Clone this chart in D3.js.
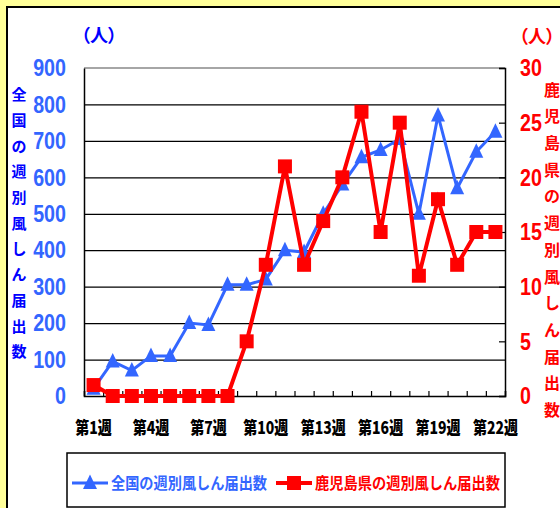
<!DOCTYPE html>
<html lang="ja">
<head>
<meta charset="UTF-8">
<title>週別風しん届出数</title>
<script src="https://cdn.jsdelivr.net/npm/d3@7"></script>
<style>
  body { margin: 0; background: #ffff99; }
  svg { display: block; }
</style>
</head>
<body>
<svg id="chart" width="560" height="508"></svg>
<script>
// data
const weeks = d3.range(1, 23).map(d => `第${d}週`);
const nationalCounts = [20, 95, 70, 110, 110, 200, 195, 305, 305, 320, 400, 395, 500, 580, 655, 675, 705, 500, 770, 570, 670, 725];
const kagoshimaCounts = [1, 0, 0, 0, 0, 0, 0, 0, 5, 12, 21, 12, 16, 20, 26, 15, 25, 11, 18, 12, 15, 15];
const leftTicks = [0, 100, 200, 300, 400, 500, 600, 700, 800, 900];
const rightTicks = [0, 5, 10, 15, 20, 25, 30];
const labelWeeks = ["第1週", "第4週", "第7週", "第10週", "第13週", "第16週", "第19週", "第22週"];
const leftTitle = "全国の週別風しん届出数";
const rightTitle = "鹿児島県の週別風しん届出数";

const BLUE = "#3366ff", DEEP_BLUE = "#0000ff", RED = "#ff0000";
const CJK = "'Noto Sans CJK JP', sans-serif";
const NUM = "'Liberation Sans', Arial, sans-serif";
const NUM_SQUEEZE = 0.82;

const svg = d3.select("#chart");
const plot = { left: 84, right: 505, top: 68, bottom: 396 };

// white panel
svg.append("rect")
    .attr("x", 7).attr("y", 7).attr("width", 600).attr("height", 560)
    .attr("fill", "#fff").attr("stroke", "#000").attr("stroke-width", 2);

const x = d3.scaleBand().domain(weeks).range([plot.left, plot.right]);
const xc = d => x(d) + x.bandwidth() / 2;
const xEdge = d3.scaleLinear().domain([0, weeks.length]).range([plot.left, plot.right]);
const yLeft = d3.scaleLinear().domain([0, 900]).range([plot.bottom, plot.top]);
const yRight = d3.scaleLinear().domain([0, 30]).range([plot.bottom, plot.top]);

// gridlines
svg.append("g")
    .attr("transform", `translate(${plot.left},0)`)
    .call(d3.axisLeft(yLeft).tickValues(leftTicks.slice(1, -1)).tickSize(-(plot.right - plot.left)).tickFormat(""))
    .call(g => g.select(".domain").remove())
    .call(g => g.selectAll("line").attr("stroke", "#000").attr("stroke-width", 1.2));

// plot frame top
svg.append("line").attr("x1", plot.left).attr("x2", plot.right).attr("y1", plot.top).attr("y2", plot.top)
    .attr("stroke", "#888").attr("stroke-width", 1.5);

// left axis
svg.append("g")
    .attr("transform", `translate(${plot.left},0)`)
    .call(d3.axisLeft(yLeft).tickValues(leftTicks).tickSize(0).tickPadding(18 / NUM_SQUEEZE))
    .call(g => g.select(".domain").attr("stroke", "#000").attr("stroke-width", 1.5))
    .call(g => g.selectAll("text")
        .attr("fill", BLUE).attr("font-family", NUM).attr("font-weight", "bold").attr("font-size", 24)
        .attr("transform", `scale(${NUM_SQUEEZE},1)`));

// right axis
svg.append("g")
    .attr("transform", `translate(${plot.right},0)`)
    .call(d3.axisRight(yRight).tickValues(rightTicks).tickSize(-6).tickPadding(15 / NUM_SQUEEZE))
    .call(g => g.select(".domain").attr("stroke", "#000").attr("stroke-width", 1.5))
    .call(g => g.selectAll("line").attr("stroke", "#000").attr("stroke-width", 1.2))
    .call(g => g.selectAll("text")
        .attr("fill", RED).attr("font-family", NUM).attr("font-weight", "bold").attr("font-size", 24)
        .attr("transform", `scale(${NUM_SQUEEZE},1)`));

// bottom ticks between categories
svg.append("g")
    .attr("transform", `translate(0,${plot.bottom})`)
    .call(d3.axisBottom(xEdge).ticks(weeks.length).tickSize(-5).tickFormat(""))
    .call(g => g.select(".domain").attr("stroke", "#000").attr("stroke-width", 1.5))
    .call(g => g.selectAll("line").attr("stroke", "#000").attr("stroke-width", 1.2));

// bottom labels
svg.append("g")
    .attr("transform", `translate(0,${plot.bottom})`)
    .call(d3.axisBottom(x).tickValues(labelWeeks).tickSize(0).tickPadding(26))
    .call(g => g.select(".domain").remove())
    .call(g => g.selectAll("text")
        .attr("fill", "#000").attr("font-family", CJK).attr("font-weight", "900").attr("font-size", 17.5)
        .attr("transform", "scale(0.8,1)"));

// units
svg.append("text").attr("x", 99).attr("y", 42).attr("text-anchor", "middle")
    .attr("fill", DEEP_BLUE).attr("font-family", CJK).attr("font-weight", "bold").attr("font-size", 18)
    .style("font-feature-settings", "'palt'")
    .text("（人）");
svg.append("text").attr("x", 537).attr("y", 43).attr("text-anchor", "middle")
    .attr("fill", RED).attr("font-family", CJK).attr("font-weight", "bold").attr("font-size", 18)
    .style("font-feature-settings", "'palt'")
    .text("（人）");

// vertical titles, one char per line
svg.append("g").selectAll("text")
    .data(Array.from(leftTitle))
    .join("text")
    .attr("x", 19).attr("y", (d, i) => 95 + i * 25.7)
    .attr("dy", "0.35em").attr("text-anchor", "middle")
    .attr("fill", DEEP_BLUE).attr("font-family", CJK).attr("font-weight", "bold").attr("font-size", 15)
    .text(d => d);

svg.append("g").selectAll("text")
    .data(Array.from(rightTitle))
    .join("text")
    .attr("x", 552).attr("y", (d, i) => 90 + i * 26.7)
    .attr("dy", "0.35em").attr("text-anchor", "middle")
    .attr("fill", RED).attr("font-family", CJK).attr("font-weight", "bold").attr("font-size", 16)
    .text(d => d);

// series
const triangle = "M0,-8.5L7,6L-7,6Z";

svg.append("path")
    .datum(nationalCounts)
    .attr("fill", "none").attr("stroke", BLUE).attr("stroke-width", 3)
    .attr("d", d3.line().x((d, i) => xc(weeks[i])).y(d => yLeft(d)));

svg.append("g").selectAll("path")
    .data(nationalCounts)
    .join("path")
    .attr("transform", (d, i) => `translate(${xc(weeks[i])},${yLeft(d)})`)
    .attr("d", triangle).attr("fill", BLUE);

svg.append("path")
    .datum(kagoshimaCounts)
    .attr("fill", "none").attr("stroke", RED).attr("stroke-width", 4)
    .attr("d", d3.line().x((d, i) => xc(weeks[i])).y(d => yRight(d)));

svg.append("g").selectAll("rect")
    .data(kagoshimaCounts)
    .join("rect")
    .attr("x", (d, i) => xc(weeks[i]) - 7).attr("y", d => yRight(d) - 7)
    .attr("width", 14).attr("height", 14).attr("fill", RED);

// legend
const legend = svg.append("g");
legend.append("rect")
    .attr("x", 67).attr("y", 453).attr("width", 438).attr("height", 54)
    .attr("fill", "#fff").attr("stroke", "#000").attr("stroke-width", 1.5);

const legendItems = [
    { name: leftTitle, color: BLUE, x: 72, marker: "tri", textWidth: 156 },
    { name: rightTitle, color: RED, x: 276, marker: "sq", textWidth: 185 }
];
const item = legend.selectAll("g.item").data(legendItems).join("g")
    .attr("class", "item")
    .attr("transform", d => `translate(${d.x},483)`);
item.append("line").attr("x1", 0).attr("x2", 36)
    .attr("stroke", d => d.color).attr("stroke-width", d => d.marker === "tri" ? 3 : 4);
item.filter(d => d.marker === "tri").append("path")
    .attr("transform", "translate(18,0)").attr("d", triangle).attr("fill", BLUE);
item.filter(d => d.marker === "sq").append("rect")
    .attr("x", 11).attr("y", -7).attr("width", 14).attr("height", 14).attr("fill", RED);
item.append("text")
    .attr("x", 39).attr("y", 6)
    .attr("fill", d => d.color).attr("font-family", CJK).attr("font-weight", "bold").attr("font-size", 16)
    .attr("textLength", d => d.textWidth).attr("lengthAdjust", "spacingAndGlyphs")
    .text(d => d.name);
</script>
</body>
</html>
